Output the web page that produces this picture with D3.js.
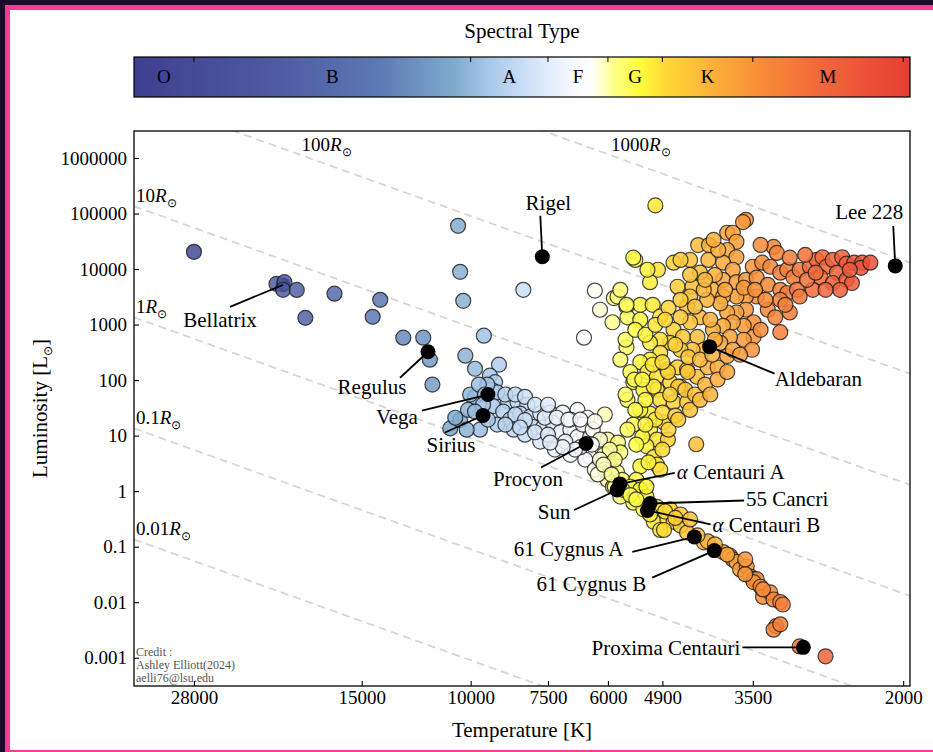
<!DOCTYPE html>
<html>
<head>
<meta charset="utf-8">
<script src="https://cdn.jsdelivr.net/npm/d3@7"></script>
<style>
  html, body { margin: 0; padding: 0; background: #1d0b2b; overflow: hidden; }
  svg { display: block; }
</style>
</head>
<body>
<svg id="chart" width="933" height="752"></svg>
<script>
// spectral classes and their temperature edges (K)
const spectralClasses = ['O', 'B', 'A', 'F', 'G', 'K', 'M']
const classEdges = [35000, 28000, 10000, 7500, 6000, 4900, 3500, 2000]

// colour map, temperature -> colour
const colorTemps = [34800, 20800, 14200, 10670, 9330, 8010, 7010, 6370, 5900, 5360, 4860, 4100, 3400, 2640, 1950]
const colorStops = ['#3f3f8f', '#4e5aa2', '#5b78b2', '#7eaacc', '#a7c8ea', '#d0e2f8', '#f2f6fe', '#ffffff',
  '#ffff90', '#ffff3c', '#ffd935', '#fdb23a', '#f88c38', '#f0643a', '#e53e33']

const xTicks = [28000, 15000, 10000, 7500, 6000, 4900, 3500, 2000]
const yTicks = [0.001, 0.01, 0.1, 1, 10, 100, 1000, 10000, 100000, 1000000]
const radii = [0.01, 0.1, 1, 10, 100, 1000]

// catalogue stars [temperature K, luminosity Lsun]
const hotStars = [
  [28000, 20400], [20600, 5400], [20000, 5800], [20100, 4230], [19100, 4200], [18500, 1320], [16600, 3600],
  [14400, 1380], [14000, 2790], [12850, 580], [11930, 580], [11640, 233], [11530, 83], [10480, 60000],
  [10400, 8900], [10280, 2680], [10200, 275], [9520, 630], [9000, 190], [9840, 160], [8220, 4230],
  [6300, 4100], [6560, 580]
]
const mainSequence = [
  [9310, 120], [9130, 92], [9250, 67], [9840, 50], [9060, 60], [9200, 34], [8700, 41], [8400, 40], [8100, 36],
  [8860, 27], [8640, 19.4], [8320, 25], [8010, 22], [7720, 25], [7440, 26], [7100, 26], [6720, 29], [6480, 21],
  [7930, 14.3], [7640, 14], [7370, 17], [7160, 11.5], [6900, 12.8], [6720, 9.5], [6410, 9.5], [6070, 24],
  [6250, 6.2], [6410, 4.1], [6090, 4.5], [6010, 8.5], [5780, 7.5], [5730, 5.0], [5960, 2.8], [5800, 2.2],
  [6010, 1.6], [5690, 1.6], [5890, 1.2], [5600, 0.95], [5400, 0.8], [5730, 0.8],
  [10790, 13.5], [10400, 19], [10100, 29], [9660, 12.8], [9060, 15.8], [8520, 12.8], [8170, 10.4], [7720, 7.8],
  [7310, 5.6], [6900, 4.5], [6530, 3.7], [6300, 2.44], [9400, 83], [10020, 55], [9700, 83], [9480, 55],
  [9550, 36], [9840, 27], [8470, 24], [8170, 19], [7870, 11.5], [7500, 10.4], [7030, 7.8], [6650, 6.2],
  [6590, 15.8], [6900, 19.4], [7590, 21], [6350, 12.8], [6180, 8.5], [5960, 5.6], [6180, 3.7], [5850, 3.7],
  [6070, 2.44], [5850, 1.2], [6230, 2.0],
  [8790, 55], [8470, 55], [8170, 50], [7870, 36], [7500, 36], [7260, 21], [6950, 19.4], [6650, 19.4],
  [6300, 18], [6370, 6.9], [6780, 5.6], [7100, 6.2], [7440, 7.5], [8320, 14], [8790, 15.8], [9380, 19.4],
  [10590, 21], [10150, 12.8], [6100, 3.0], [5920, 1.99]
]
const giants = [
  [5030, 140000], [5420, 14600], [4980, 9700], [5130, 5800], [5870, 3000], [5600, 2100], [5320, 2270],
  [5080, 2270], [5580, 1350], [5320, 1220], [4940, 1400], [4790, 2000], [4700, 13000], [4630, 4800],
  [4470, 2100], [4420, 14600], [4290, 27000], [4120, 27000], [4130, 14600], [4260, 8600], [4380, 4800],
  [4050, 4230], [3850, 45000], [3770, 45000], [3720, 31000], [3590, 77000], [3630, 70000], [3850, 22000],
  [3720, 16300], [3910, 13000], [3770, 9700], [3910, 6400], [3720, 5800], [3590, 6400], [3500, 11000],
  [3380, 13000], [3450, 7000], [3240, 25000], [3200, 19500], [3280, 11000], [3160, 8600], [3310, 5200],
  [3160, 4230], [3080, 9700], [3010, 7100], [2940, 9700], [3080, 3700], [3160, 2790], [2970, 4230],
  [2830, 11000], [2760, 14600], [2700, 16300], [2660, 11000], [2600, 14600], [2510, 16300], [2470, 12500],
  [2400, 13000], [2560, 8600], [2720, 7100], [2800, 4230], [2860, 6400], [2600, 5600], [2470, 6400],
  [2420, 5600], [2530, 4230], [2330, 13000], [2340, 10500], [2940, 3200], [3050, 1650], [3160, 730],
  [3310, 1850], [3450, 3200], [3590, 3200], [3720, 3200], [3910, 3200], [3590, 1850], [3720, 1650],
  [3850, 1650], [3950, 2400], [4150, 2790], [4200, 4230], [4420, 3200], [4580, 2790], [3490, 1100],
  [3620, 950], [3770, 1100], [3910, 950], [4060, 805], [3490, 600], [3620, 533], [3810, 600], [3950, 470],
  [3850, 270], [3770, 352], [4260, 1350], [4420, 1100], [4580, 1350], [4700, 805], [4540, 600], [4300, 600],
  [4200, 352], [4380, 352], [4580, 352], [4760, 470], [4940, 533], [5130, 470], [4940, 310], [5130, 233],
  [5320, 210], [5460, 92], [5180, 140], [5000, 115], [4810, 154], [4630, 170], [4470, 154], [4310, 115],
  [4140, 170], [3990, 170], [4760, 92], [4580, 76], [5000, 67], [5260, 67], [5520, 140],
  [5460, 16000], [5180, 9700], [5790, 3200], [5600, 2270], [5600, 390], [6180, 1850], [5900, 1100], [5730, 4230],
  [5440, 102], [5060, 76], [4800, 140], [4620, 76], [4460, 140], [4940, 44], [4700, 40], [5130, 25],
  [4880, 17.5], [5130, 12.8], [5000, 8.5], [5200, 6.5], [5060, 4.1], [5320, 2.8], [5400, 1.6], [4800, 8.5],
  [4470, 40], [4320, 7.0], [5000, 3.0], [5320, 29], [5030, 19.4], [5220, 44], [4760, 55], [4900, 26],
  [5280, 9.5], [5580, 44], [5460, 15.8], [4670, 23], [4500, 67], [4340, 55], [4180, 83], [3990, 102], [3850, 140],
  [5620, 55], [5420, 29], [5220, 15.8], [5400, 6.9], [4900, 5.6], [4790, 12.8], [4620, 19.4], [4420, 29],
  [4260, 44], [4100, 55], [5730, 233], [5620, 533], [5420, 805], [5220, 655], [5030, 990], [4850, 1220],
  [4670, 433], [4450, 260], [4260, 233], [4070, 286], [5280, 102], [5080, 189], [4900, 210], [5580, 12.8],
  [4940, 2.44], [5160, 3.3],
  [4030, 7870], [3880, 4230], [3620, 4600], [3470, 4230], [3340, 2790], [3220, 1350], [3400, 805], [3510, 352],
  [3670, 286], [4100, 1220], [4030, 533], [4340, 2100], [4180, 6400], [4420, 7870], [4580, 14600], [3980, 22100],
  [4050, 33500], [3400, 27200], [3050, 16000], [2880, 18000], [3100, 2270],
  [2770, 8600], [2670, 4230], [2440, 9680], [2260, 13000]
]
const dwarfs = [
  [5520, 1.2], [5320, 1.07], [5200, 0.8], [5460, 0.62], [5260, 0.47], [5000, 0.52], [5060, 0.28], [4810, 0.31],
  [4940, 0.2], [5200, 1.2], [5690, 1.07], [5520, 0.85], [5400, 0.71], [4700, 0.28], [4580, 0.24], [4870, 0.2],
  [4470, 0.18], [4200, 0.12], [4140, 0.125], [3910, 0.08], [3810, 0.069], [3770, 0.059], [3720, 0.053],
  [3670, 0.039], [3580, 0.044], [3530, 0.029], [3490, 0.026], [3450, 0.026], [3490, 0.023], [3400, 0.019],
  [3370, 0.0125], [3280, 0.015], [3240, 0.0112], [3160, 0.0101], [3130, 0.0091], [3210, 0.0037], [3240, 0.0032],
  [3160, 0.004], [2940, 0.0016], [2670, 0.00106], [4760, 0.47], [4580, 0.38], [4420, 0.31], [5130, 0.38], [3600, 0.032],
  [4850, 0.43], [4670, 0.33], [4300, 0.16], [4030, 0.11], [3850, 0.072], [3600, 0.059], [3370, 0.017]
]

// named stars
const starNames = ['Bellatrix', 'Regulus', 'Vega', 'Sirius', 'Rigel', 'Procyon', 'Sun', 'α Centauri A',
  '55 Cancri', 'α Centauri B', '61 Cygnus A', '61 Cygnus B', 'Proxima Centauri', 'Aldebaran', 'Lee 228']
const starTemps = [20100, 11720, 9380, 9550, 7660, 6510, 5800, 5740, 5130, 5180, 4350, 4040, 2900, 4110, 2060]
const starLums = [5200, 324, 55, 23, 16600, 7.2, 1.05, 1.35, 0.6, 0.45, 0.15, 0.085, 0.00154, 400, 11400]

const creditLines = ['Credit :', 'Ashley Elliott(2024)', 'aelli76@lsu.edu']

const T_SUN = 5772
const serif = "'Liberation Serif', 'Times New Roman', serif"
const plot = { left: 134, right: 910, top: 131, bottom: 686 }

const x = d3.scaleLog().domain([35000, 1950]).range([plot.left, plot.right])
const y = d3.scaleLog().domain([3.1e-4, 3.06e6]).range([plot.bottom, plot.top])
const color = d3.scaleLog().domain(colorTemps).range(colorStops).interpolate(d3.interpolateRgb).clamp(true)

const lumAt = (r, t) => r * r * Math.pow(t / T_SUN, 4)

const svg = d3.select('#chart')

// page frame
svg.append('rect').attr('x', 5).attr('y', 5).attr('width', 928).attr('height', 747).attr('fill', '#ff3b96')
svg.append('rect').attr('x', 10).attr('y', 10).attr('width', 923).attr('height', 740).attr('fill', '#fff')

// colour bar
const defs = svg.append('defs')
const grad = defs.append('linearGradient').attr('id', 'spec-grad')
colorTemps.forEach((t, i) => {
  grad.append('stop')
    .attr('offset', Math.max(0, Math.min(1, (x(t) - plot.left) / (plot.right - plot.left))))
    .attr('stop-color', colorStops[i])
})

const bar = { top: 57, height: 40 }
const cb = svg.append('g')
cb.append('rect')
  .attr('x', plot.left).attr('y', bar.top)
  .attr('width', plot.right - plot.left).attr('height', bar.height)
  .attr('fill', 'url(#spec-grad)')
  .attr('stroke', '#000').attr('stroke-width', 1.2)
cb.selectAll('line.tick')
  .data(classEdges.slice(1))
  .join('line')
  .attr('x1', d => x(d)).attr('x2', d => x(d))
  .attr('y1', bar.top).attr('y2', bar.top + 5)
  .attr('stroke', '#000').attr('stroke-width', 1)
cb.selectAll('text.cls')
  .data(spectralClasses)
  .join('text')
  .attr('x', (d, i) => (x(classEdges[i]) + x(classEdges[i + 1])) / 2)
  .attr('y', bar.top + bar.height / 2 + 6)
  .attr('text-anchor', 'middle')
  .style('font-family', serif)
  .style('font-size', '19px')
  .text(d => d)
svg.append('text')
  .attr('x', (plot.left + plot.right) / 2)
  .attr('y', 38)
  .attr('text-anchor', 'middle')
  .style('font-family', serif)
  .style('font-size', '21px')
  .text('Spectral Type')

// plot area
defs.append('clipPath').attr('id', 'plot-clip')
  .append('rect')
  .attr('x', plot.left).attr('y', plot.top)
  .attr('width', plot.right - plot.left).attr('height', plot.bottom - plot.top)

const inner = svg.append('g').attr('clip-path', 'url(#plot-clip)')

// constant radius lines
const rLine = d3.line().x(d => x(d[0])).y(d => y(d[1]))
inner.selectAll('path.radius')
  .data(radii)
  .join('path')
  .attr('d', r => rLine(x.domain().map(t => [t, lumAt(r, t)])))
  .attr('fill', 'none')
  .attr('stroke', '#d6d6d6')
  .attr('stroke-width', 1.8)
  .attr('stroke-dasharray', '8,5')

const named = starNames.map((name, i) => ({ name, t: starTemps[i], l: starLums[i] }))
const hidden = named.filter(d => d.name === 'Bellatrix')
const shown = named.filter(d => d.name !== 'Bellatrix')

const drawDots = (g, data) => g.selectAll('circle')
  .data(data)
  .join('circle')
  .attr('cx', d => x(d.t)).attr('cy', d => y(d.l))
  .attr('r', 7.5)
  .attr('fill', '#000')

drawDots(inner.append('g'), hidden)

const catalogue = hotStars.concat(mainSequence, giants, dwarfs).map(d => ({ t: d[0], l: d[1] }))
inner.append('g')
  .selectAll('circle')
  .data(catalogue)
  .join('circle')
  .attr('cx', d => x(d.t)).attr('cy', d => y(d.l))
  .attr('r', 7.5)
  .attr('fill', d => color(d.t))
  .attr('fill-opacity', 0.85)
  .attr('stroke', '#1a1a1a')
  .attr('stroke-opacity', 0.8)
  .attr('stroke-width', 1.2)

drawDots(inner.append('g'), shown)

// labels for named stars: leader end (lx, ly), text position (tx, ty)
const labelLayout = {
  Bellatrix: { lx: -53, ly: 22, tx: -63, ty: 42, anchor: 'middle' },
  Regulus: { lx: -28, ly: 26, tx: -56, ty: 42, anchor: 'middle' },
  Vega: { lx: -66, ly: 16, tx: -91, ty: 29, anchor: 'middle' },
  Sirius: { lx: -38, ly: 17, tx: -32, ty: 36, anchor: 'middle' },
  Rigel: { lx: -2, ly: -41, tx: 6, ty: -47, anchor: 'middle' },
  Procyon: { lx: -45, ly: 24, tx: -58, ty: 42, anchor: 'middle' },
  Sun: { lx: -43, ly: 20, tx: -63, ty: 29, anchor: 'middle' },
  'α Centauri A': { lx: 55, ly: -11, tx: 57, ty: -5, anchor: 'start' },
  '55 Cancri': { lx: 94, ly: -3, tx: 96, ty: 3, anchor: 'start' },
  'α Centauri B': { lx: 63, ly: 14, tx: 65, ty: 22, anchor: 'start' },
  '61 Cygnus A': { lx: -62, ly: 15, tx: -71, ty: 19, anchor: 'end' },
  '61 Cygnus B': { lx: -62, ly: 27, tx: -68, ty: 40, anchor: 'end' },
  'Proxima Centauri': { lx: -61, ly: 0, tx: -63, ty: 8, anchor: 'end' },
  Aldebaran: { lx: 65, ly: 27, tx: 65, ty: 39, anchor: 'start' },
  'Lee 228': { lx: -2, ly: -40, tx: -26, ty: -47, anchor: 'middle' }
}

const ann = svg.append('g')
ann.selectAll('line')
  .data(named)
  .join('line')
  .attr('x1', d => x(d.t)).attr('y1', d => y(d.l))
  .attr('x2', d => x(d.t) + labelLayout[d.name].lx)
  .attr('y2', d => y(d.l) + labelLayout[d.name].ly)
  .attr('stroke', '#000').attr('stroke-width', 1.8)

ann.selectAll('text')
  .data(named)
  .join('text')
  .attr('x', d => x(d.t) + labelLayout[d.name].tx)
  .attr('y', d => y(d.l) + labelLayout[d.name].ty)
  .attr('text-anchor', d => labelLayout[d.name].anchor)
  .style('font-family', serif)
  .style('font-size', '21px')
  .each(function (d) {
    const t = d3.select(this)
    if (d.name.startsWith('α')) {
      t.append('tspan').style('font-style', 'italic').text('α')
      t.append('tspan').text(d.name.slice(1))
    } else {
      t.text(d.name)
    }
  })

// radius labels
const LABEL_LUM = 1.15e6
const rl = svg.append('g')
radii.forEach(r => {
  const t = Math.min(x.domain()[0], T_SUN * Math.pow(LABEL_LUM / (r * r), 0.25))
  const txt = rl.append('text')
    .attr('x', x(t) + 2)
    .attr('y', y(lumAt(r, t)) - 4)
    .style('font-family', serif)
    .style('font-size', '19px')
  txt.append('tspan').text(String(r))
  txt.append('tspan').style('font-style', 'italic').text('R')
  txt.append('tspan').attr('dy', 5).style('font-size', '12px').text('⊙')
})

// credit
svg.append('g')
  .selectAll('text')
  .data(creditLines)
  .join('text')
  .attr('x', plot.left + 2)
  .attr('y', (d, i) => 656 + i * 13)
  .style('font-family', serif)
  .style('font-size', '12px')
  .attr('fill', '#555')
  .text(d => d)

// frame
svg.append('rect')
  .attr('x', plot.left).attr('y', plot.top)
  .attr('width', plot.right - plot.left).attr('height', plot.bottom - plot.top)
  .attr('fill', 'none').attr('stroke', '#000').attr('stroke-width', 1.3)

// axes
const xAxis = svg.append('g')
  .attr('transform', `translate(0,${plot.bottom})`)
  .call(d3.axisBottom(x).tickValues(xTicks).tickFormat(d => String(d)).tickSize(-5).tickPadding(5))
const yAxis = svg.append('g')
  .attr('transform', `translate(${plot.left},0)`)
  .call(d3.axisLeft(y).tickValues(yTicks).tickFormat(d => d >= 1 ? d3.format('d')(d) : String(d)).tickSize(-5).tickPadding(7))

;[xAxis, yAxis].forEach(a => {
  a.select('.domain').remove()
  a.selectAll('.tick line').attr('stroke', '#000').attr('stroke-width', 1.1)
  a.selectAll('.tick text')
    .attr('fill', '#000')
    .style('font-family', serif)
    .style('font-size', '19px')
})

svg.append('text')
  .attr('x', (plot.left + plot.right) / 2)
  .attr('y', 737)
  .attr('text-anchor', 'middle')
  .style('font-family', serif)
  .style('font-size', '21px')
  .text('Temperature [K]')

const yl = svg.append('text')
  .attr('transform', `translate(47,${(plot.top + plot.bottom) / 2}) rotate(-90)`)
  .attr('text-anchor', 'middle')
  .style('font-family', serif)
  .style('font-size', '21px')
yl.append('tspan').text('Luminosity [L')
yl.append('tspan').attr('dy', 5).style('font-size', '12px').text('⊙')
yl.append('tspan').attr('dy', -5).text(']')
</script>
</body>
</html>
